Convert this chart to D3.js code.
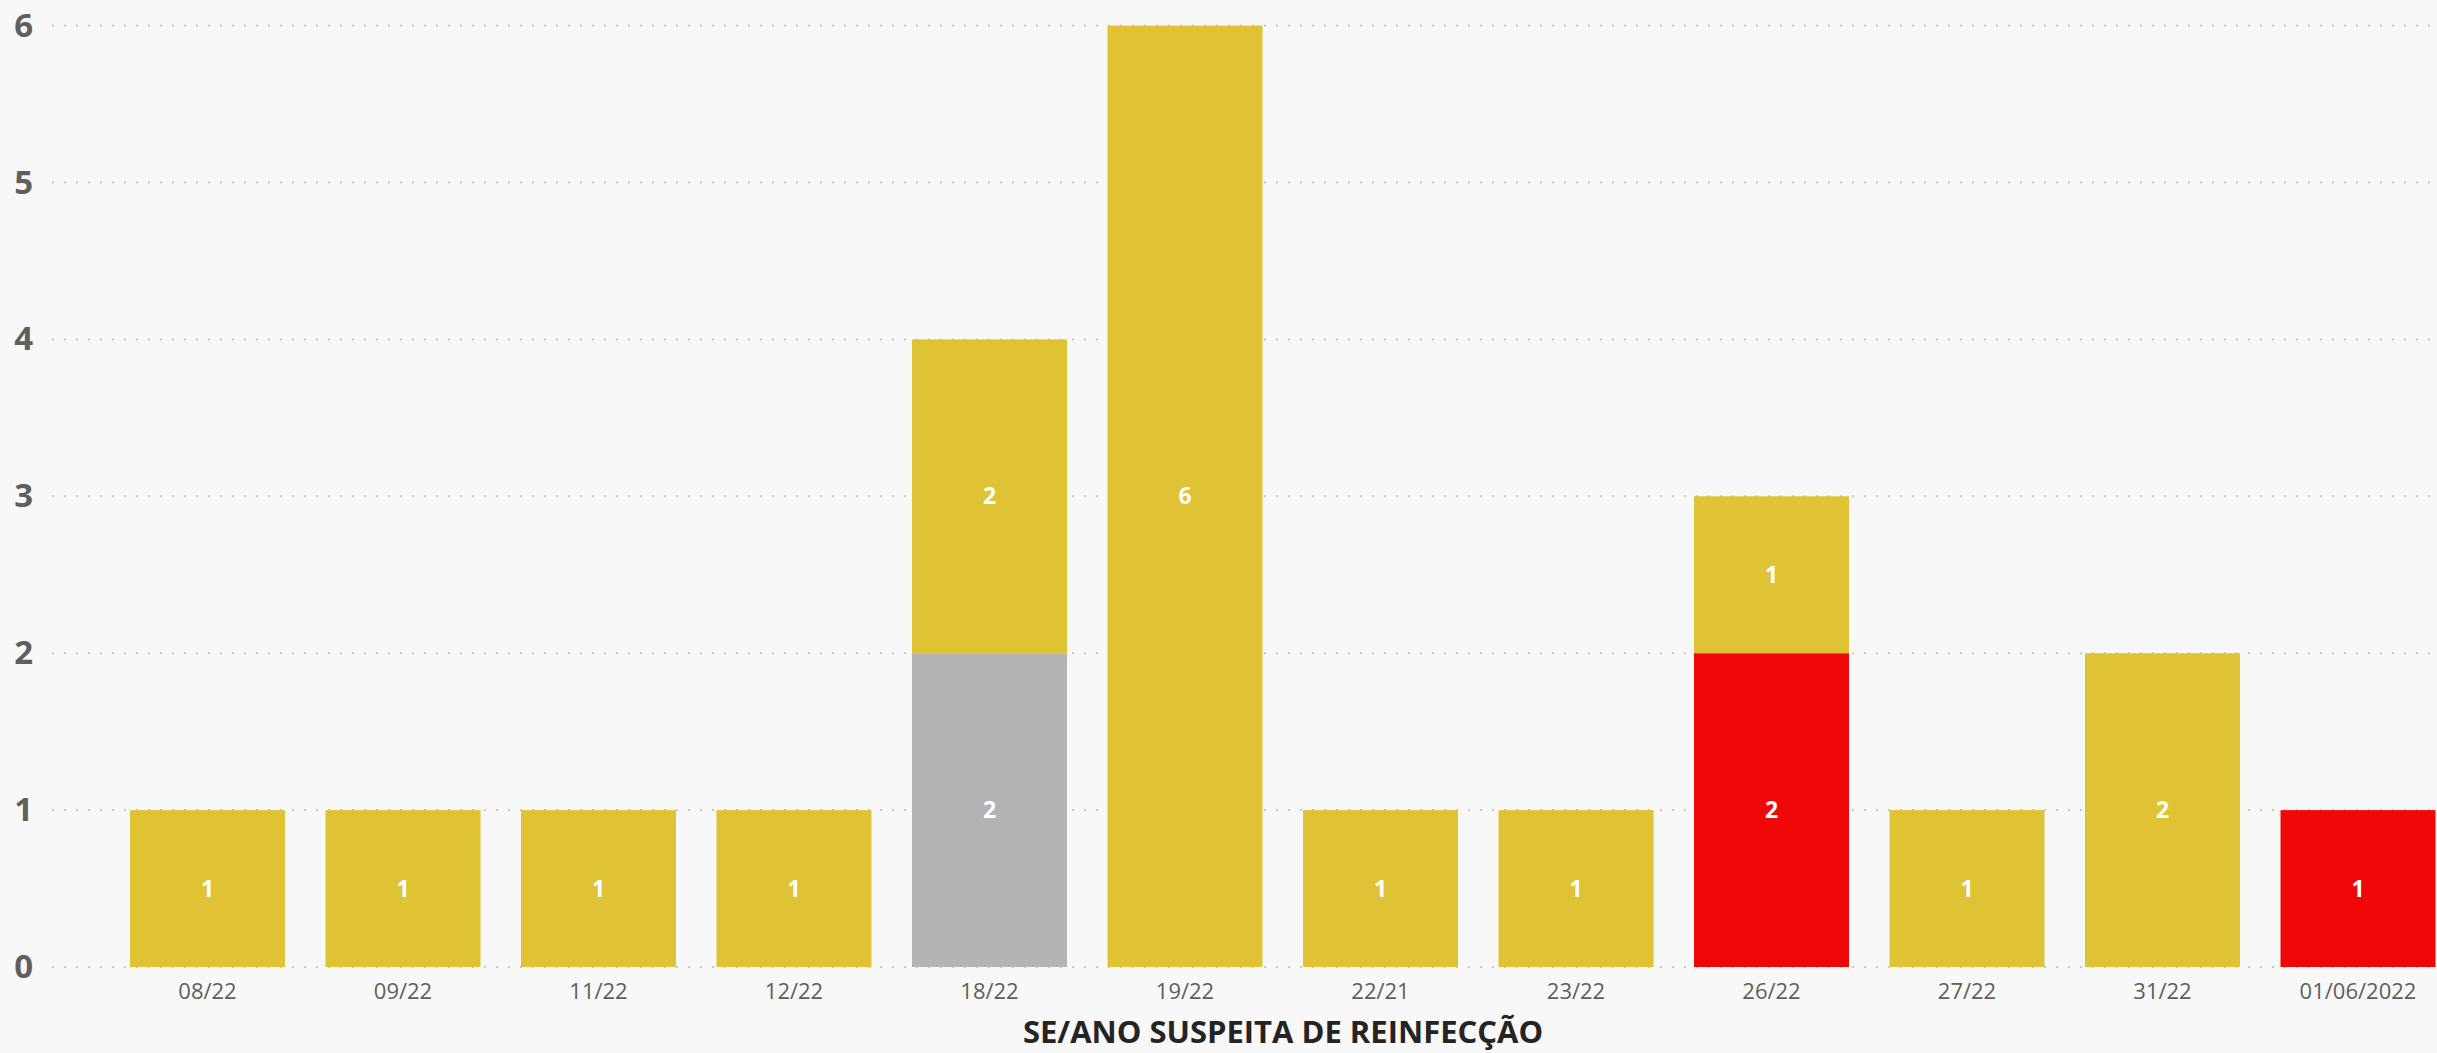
<!DOCTYPE html>
<html>
<head>
<meta charset="utf-8">
<script src="https://cdn.jsdelivr.net/npm/d3@7"></script>
<style>
  html, body { margin: 0; padding: 0; background: #F8F8F8; }
  svg { display: block; }
</style>
</head>
<body>
<script>
// ---- data ----
const categories = ["08/22","09/22","11/22","12/22","18/22","19/22","22/21","23/22","26/22","27/22","31/22","01/06/2022"];
const seriesGray   = [0,0,0,0,2,0,0,0,0,0,0,0];
const seriesRed    = [0,0,0,0,0,0,0,0,2,0,0,1];
const seriesYellow = [1,1,1,1,2,6,1,1,1,1,2,0];
const yTicks = [0,1,2,3,4,5,6];
const xTitle = "SE/ANO SUSPEITA DE REINFECÇÃO";
const seriesKeys = ["gray","red","yellow"];
const seriesColors = {gray: "#B3B3B3", red: "#F00808", yellow: "#E0C334"};

const W = 2437, H = 1053;
const svg = d3.select("body").append("svg").attr("width", W).attr("height", H);
svg.append("rect").attr("width", W).attr("height", H).attr("fill", "#F8F8F8");

const rows = categories.map((c, i) => ({cat: c, gray: seriesGray[i], red: seriesRed[i], yellow: seriesYellow[i]}));
const stack = d3.stack().keys(seriesKeys)(rows);

const x = d3.scaleBand().domain(categories)
  .range([109.75, 109.75 + 12 * 195.5])
  .paddingInner(0.2072).paddingOuter(0.1036);
const y = d3.scaleLinear().domain([0, 6]).range([967, 25.6]);

// gridlines
const grid = svg.append("g");
grid.selectAll("line").data(yTicks).join("line")
  .attr("x1", 52).attr("x2", W)
  .attr("y1", d => y(d)).attr("y2", d => y(d))
  .attr("stroke", "#C8C8C8").attr("stroke-width", 2)
  .attr("stroke-dasharray", "2 10");

// y axis labels
const yAxis = d3.axisLeft(y).tickValues(yTicks).tickSize(0).tickPadding(0).tickFormat(d3.format("d"));
const ya = svg.append("g").attr("transform", "translate(33,0)").call(yAxis);
ya.select(".domain").remove();
ya.selectAll("text")
  .attr("fill", "#5F5F5F")
  .style("font-family", "'Open Sans', 'Noto Sans', sans-serif")
  .style("font-weight", "700")
  .style("font-size", "33px");

// bars
const layers = svg.append("g").selectAll("g").data(stack).join("g")
  .attr("fill", d => seriesColors[d.key]);
layers.selectAll("rect").data(d => d.filter(s => s[1] - s[0] > 0)).join("rect")
  .attr("x", d => x(d.data.cat))
  .attr("width", x.bandwidth())
  .attr("y", d => y(d[1]))
  .attr("height", d => y(d[0]) - y(d[1]));

// data labels
const labels = svg.append("g");
stack.forEach(layer => {
  layer.filter(s => s[1] - s[0] > 0).forEach(s => {
    labels.append("text")
      .attr("x", x(s.data.cat) + x.bandwidth() / 2)
      .attr("y", y((s[0] + s[1]) / 2))
      .attr("dy", "0.35em")
      .attr("text-anchor", "middle")
      .attr("fill", "#FFFFFF")
      .style("font-family", "'Open Sans', 'Noto Sans', sans-serif")
      .style("font-weight", "700")
      .style("font-size", "23px")
      .text(s[1] - s[0]);
  });
});

// x axis labels
const xAxis = d3.axisBottom(x).tickSize(0).tickPadding(0);
const xa = svg.append("g").attr("transform", "translate(0,967)").call(xAxis);
xa.select(".domain").remove();
xa.selectAll("text")
  .attr("y", 32).attr("dy", 0)
  .attr("fill", "#605E5C")
  .style("font-family", "'Open Sans', 'Noto Sans', sans-serif")
  .style("font-size", "22px");

// x title
svg.append("text")
  .attr("x", 1283).attr("y", 1043)
  .attr("text-anchor", "middle")
  .attr("fill", "#252423")
  .style("font-family", "'Open Sans', 'Noto Sans', sans-serif")
  .style("font-weight", "700")
  .style("font-size", "31px")
  .text(xTitle);
</script>
</body>
</html>
